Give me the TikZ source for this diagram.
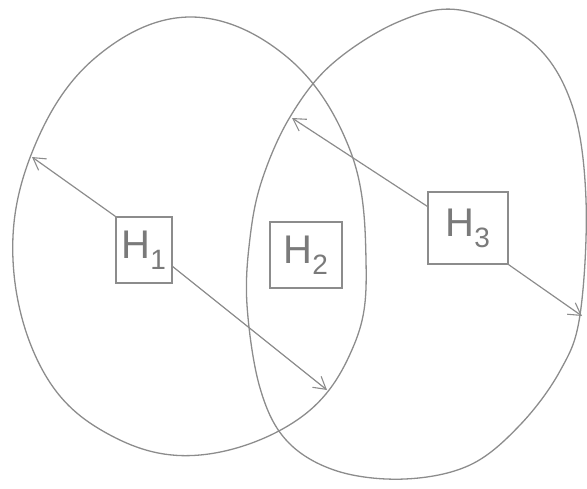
\documentclass[tikz,border=0pt]{standalone}
\usepackage{fontspec}
\setmainfont{Liberation Sans}
\usetikzlibrary{arrows.meta}
\definecolor{pencil}{HTML}{8C8C8C}
\definecolor{pencildark}{HTML}{7A7A7A}
\tikzset{
  outline/.style={draw=pencil, line width=1.3pt},
  hbox/.style={draw=pencil, line width=1.4pt, inner sep=0pt, text=pencildark,
    font=\fontsize{40}{44}\selectfont},
  ray/.style={draw=pencil, line width=1.2pt, -{Straight Barb[length=12pt,width=14pt,line width=1.1pt]}}
}
\begin{document}
\begin{tikzpicture}[x=1pt,y=-1pt]
\useasboundingbox (0,0) rectangle (587,488);
% left set
\draw[outline] plot[smooth cycle, tension=0.65] coordinates {
 (190,17) (287,57) (350,150) (366,260) (354,345) (300,418) (200,455)
 (110,435) (43,371) (13,260) (33,150) (95,58)};
% right set
\draw[outline] plot[smooth cycle, tension=0.6] coordinates {
 (460,10) (532,42) (572,105) (586,200) (580,315) (560,371) (520,425)
 (470,465) (405,479) (337,471) (287,441) (260,388) (247,305) (250,238)
 (262,180) (290,117) (332,64) (398,22)};
% boxes
\node[hbox, minimum width=56pt, minimum height=66pt] (H1) at (144,250) {H\textsubscript{1}};
\node[hbox, minimum width=72pt, minimum height=66pt] (H2) at (306,255) {H\textsubscript{2}};
\node[hbox, minimum width=80pt, minimum height=72pt] (H3) at (468,228) {H\textsubscript{3}};
% arrow tips on the outlines
\coordinate (t1) at (32,157);
\coordinate (t2) at (327,390);
\coordinate (t3) at (292,118);
\coordinate (t4) at (582,316);
\draw[ray] (H1.north west) -- (t1);
\draw[ray] (H1.-30) -- (t2);
\draw[ray] (H3.152) -- (t3);
\draw[ray] (H3.south east) -- (t4);
\end{tikzpicture}
\end{document}
